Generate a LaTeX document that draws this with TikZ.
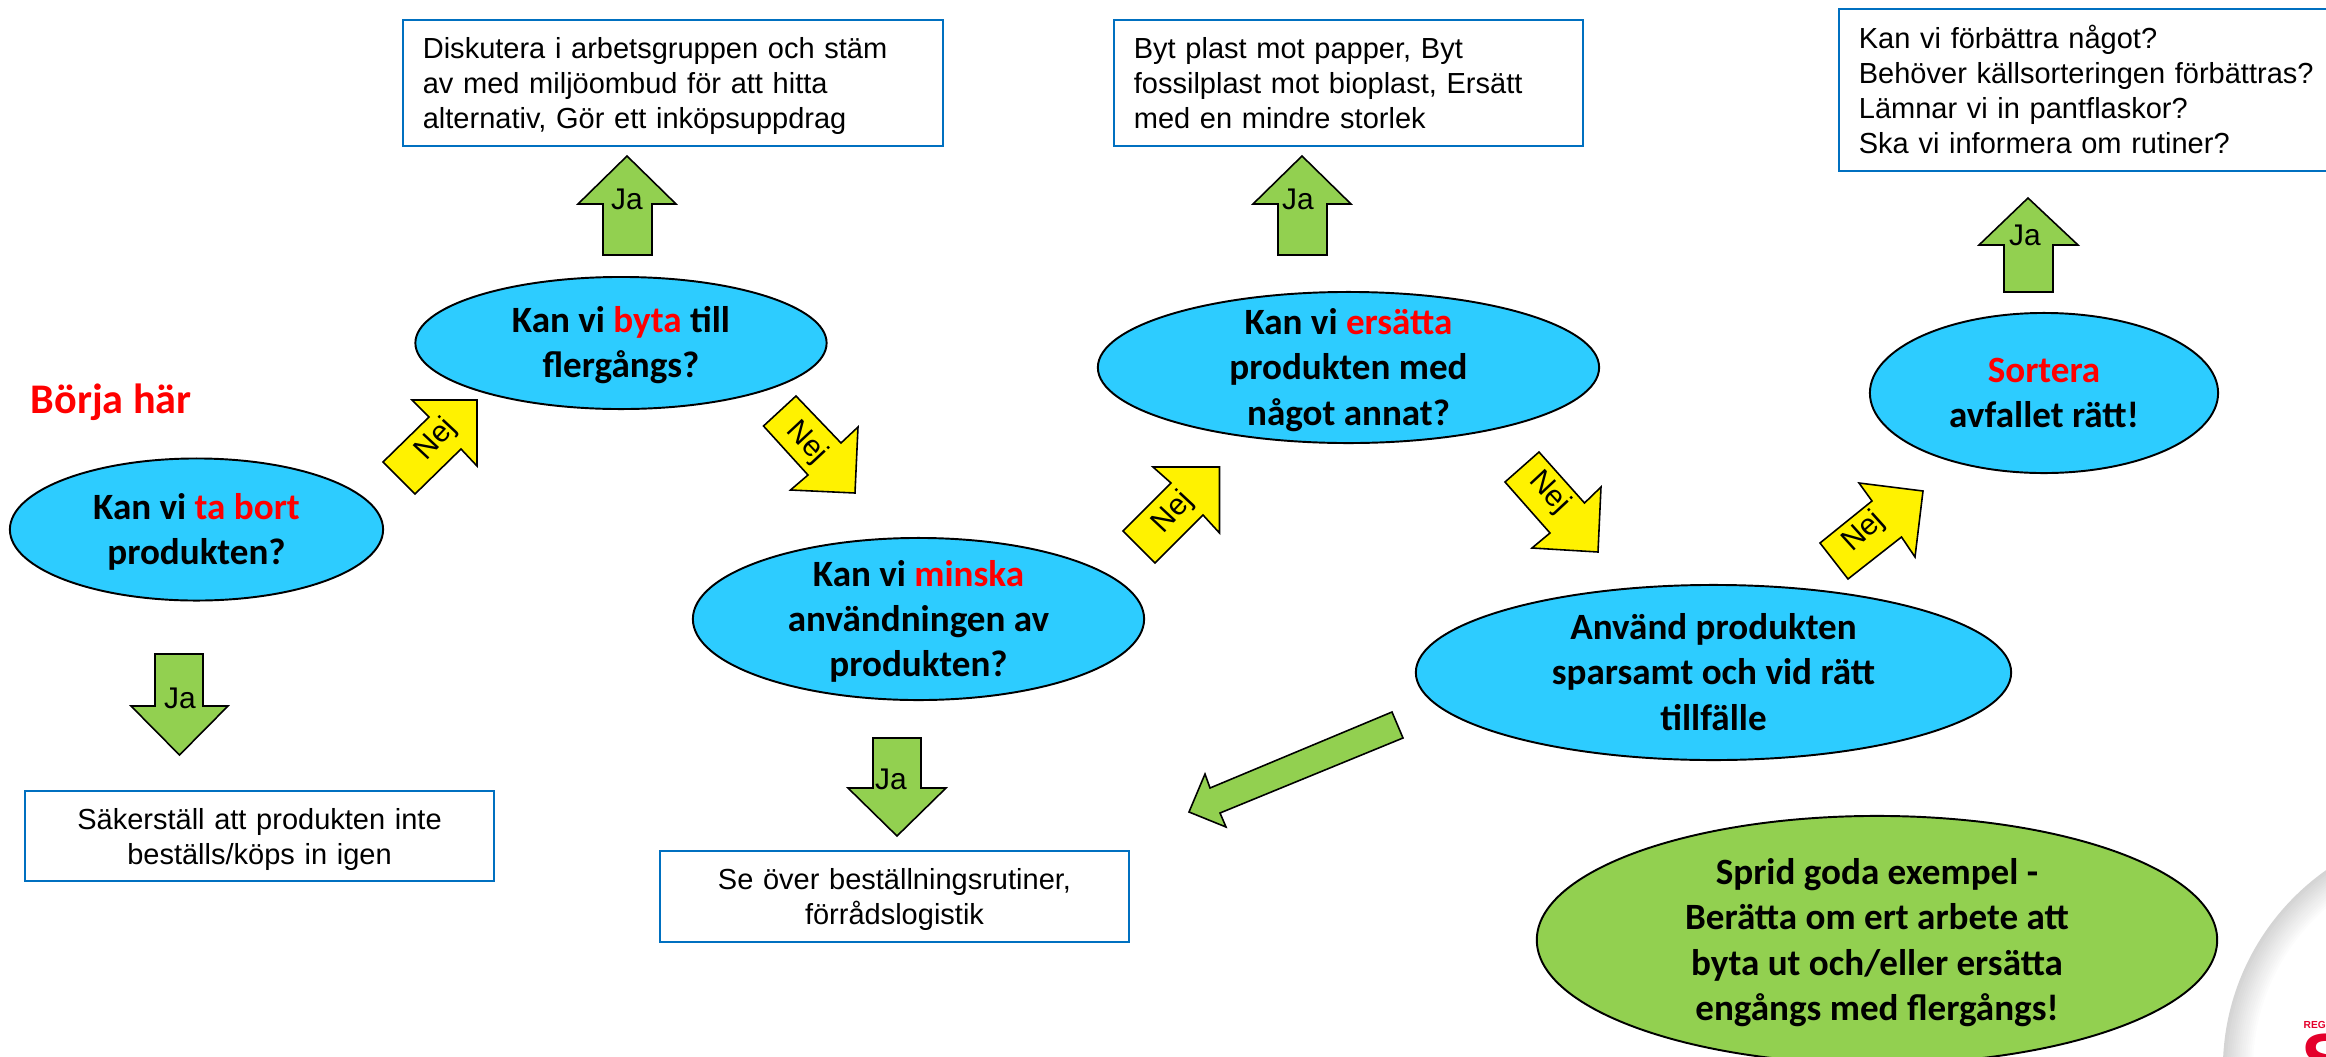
\documentclass[tikz,border=0pt]{standalone}
\usepackage{fontspec}
\setmainfont{Liberation Sans}
\newfontfamily\ovalfont{Carlito}
\usetikzlibrary{shapes.geometric}
\definecolor{ovalblue}{HTML}{2DCCFF}
\definecolor{arrowgreen}{HTML}{92D050}
\definecolor{boxblue}{HTML}{0070C0}
\definecolor{logored}{HTML}{E4002B}
\newcommand{\ovaltop}{\rule{0pt}{10.8pt}}
\newcommand{\ovalbot}{\rule[-3.7pt]{0pt}{3.7pt}}
\newcommand{\boxtop}{\rule{0pt}{8pt}}
\newcommand{\boxbot}{\rule[-2pt]{0pt}{2pt}}
\tikzset{
	oval/.style={ellipse, draw, line width=0.55pt, inner xsep=0pt, inner ysep=-0.4cm, align=center, font=\ovalfont\bfseries\fontsize{10.55}{12.8}\selectfont},
	infobox/.style={rectangle, draw=boxblue, line width=0.45pt, fill=white, inner xsep=0.2cm, inner ysep=0pt, font=\fontsize{8.25}{9.95}\selectfont},
	jaarrow/.style={draw, line width=0.45pt, fill=arrowgreen, line join=miter},
	nejarrow/.style={draw, line width=0.45pt, fill=yellow, line join=miter},
	arrowtext/.style={inner sep=0pt, font=\fontsize{8.5}{10}\selectfont}
}
\begin{document}
\begin{tikzpicture}[x=0.01cm, y=-0.01cm]
	\path[use as bounding box, clip] (0, 0) rectangle (2326, 1057);

	% Logo i hörnet
	\foreach \i in {0,...,15} {
		\pgfmathsetmacro{\tone}{17 - 1.13*\i}
		\fill[black!\tone] (2466, 1069) circle ({2.43cm - \i*0.02cm});
	}
	\node[inner sep=0pt, anchor=base west, text=logored, font=\bfseries\fontsize{2.9}{3}\selectfont] (logoText) at (2303, 1028) {REGI};
	\node[inner sep=0pt, anchor=base west, text=logored, font=\bfseries\fontsize{21}{21}\selectfont] (logoS) at (2301, 1085) {S};

	% Frågorna
	\node[oval, fill=ovalblue, minimum width=3.73cm, minimum height=1.42cm] (taBort) at (196.5, 529.5) {\ovaltop Kan vi \textcolor{red}{ta bort}\\produkten?\ovalbot};
	\node[oval, fill=ovalblue, minimum width=4.11cm, minimum height=1.32cm] (byta) at (621, 343) {\ovaltop Kan vi \textcolor{red}{byta} till\\flergångs?\ovalbot};
	\node[oval, fill=ovalblue, minimum width=4.51cm, minimum height=1.62cm] (minska) at (918.5, 619) {\ovaltop Kan vi \textcolor{red}{minska}\\användningen av\\produkten?\ovalbot};
	\node[oval, fill=ovalblue, minimum width=5.01cm, minimum height=1.51cm] (ersatta) at (1348.5, 367.5) {\ovaltop Kan vi \textcolor{red}{ersätta}\\produkten med\\något annat?\ovalbot};
	\node[oval, fill=ovalblue, minimum width=3.48cm, minimum height=1.6cm] (sortera) at (2044, 393) {\ovaltop\textcolor{red}{Sortera}\\avfallet rätt!\ovalbot};
	\node[oval, fill=ovalblue, minimum width=5.95cm, minimum height=1.75cm] (anvand) at (1713.5, 672.5) {\ovaltop Använd produkten\\sparsamt och vid rätt\\tillfälle\ovalbot};
	\node[oval, fill=arrowgreen, minimum width=6.8cm, minimum height=2.48cm] (sprid) at (1877, 940) {\ovaltop Sprid goda exempel -\\Berätta om ert arbete att\\byta ut och/eller ersätta\\engångs med flergångs!\ovalbot};

	\node[inner sep=0pt, anchor=base west, text=red, font=\ovalfont\bfseries\fontsize{12}{14}\selectfont] (borja) at (30, 413) {Börja här};

	% Rutorna
	\node[infobox, minimum width=4.69cm, minimum height=0.9cm, align=center, text width=4.29cm] (boxBort) at (259.5, 836) {\boxtop Säkerställ att produkten inte\\beställs/köps in igen\boxbot};
	\node[infobox, minimum width=5.4cm, minimum height=1.26cm, align=left, text width=5cm] (boxByta) at (673, 83) {\boxtop Diskutera i arbetsgruppen och stäm\\av med miljöombud för att hitta\\alternativ, Gör ett inköpsuppdrag\boxbot};
	\node[infobox, minimum width=4.69cm, minimum height=0.91cm, align=center, text width=4.29cm] (boxMinska) at (894.5, 896.5) {\boxtop Se över beställningsrutiner,\\förrådslogistik\boxbot};
	\node[infobox, minimum width=4.69cm, minimum height=1.26cm, align=left, text width=4.29cm] (boxErsatta) at (1348.5, 83) {\boxtop Byt plast mot papper, Byt\\fossilplast mot bioplast, Ersätt\\med en mindre storlek\boxbot};
	\node[infobox, minimum width=5.1cm, minimum height=1.62cm, align=left, text width=4.7cm] (boxSortera) at (2094, 90) {\boxtop Kan vi förbättra något?\\Behöver källsorteringen förbättras?\\Lämnar vi in pantflaskor?\\Ska vi informera om rutiner?\boxbot};

	% Ja-pilar
	\draw[jaarrow] (155, 654) -- (203, 654) -- (203, 706) -- (228, 706) -- (179.5, 755) -- (131, 706) -- (155, 706) -- cycle;
	\draw[jaarrow] (873, 738) -- (921, 738) -- (921, 788) -- (946, 788) -- (897, 836) -- (848, 788) -- (873, 788) -- cycle;
	\draw[jaarrow] (603, 255) -- (652, 255) -- (652, 204) -- (676, 204) -- (627, 156) -- (578, 204) -- (603, 204) -- cycle;
	\draw[jaarrow] (1278, 255) -- (1327, 255) -- (1327, 204) -- (1351, 204) -- (1302, 156) -- (1253, 204) -- (1278, 204) -- cycle;
	\draw[jaarrow] (2004, 292) -- (2053, 292) -- (2053, 245) -- (2078, 245) -- (2028, 198) -- (1979, 245) -- (2004, 245) -- cycle;
	\node[arrowtext, anchor=base] (jaBort) at (180, 708) {Ja};
	\node[arrowtext, anchor=base] (jaMinska) at (891, 789) {Ja};
	\node[arrowtext, anchor=base] (jaByta) at (627, 209) {Ja};
	\node[arrowtext, anchor=base] (jaErsatta) at (1298, 209) {Ja};
	\node[arrowtext, anchor=base] (jaSortera) at (2025, 245) {Ja};

	% Nej-pilar
	\draw[nejarrow] (383, 462) -- (429, 417) -- (412, 400) -- (477, 400) -- (477, 466) -- (461, 449) -- (415, 494) -- cycle;
	\draw[nejarrow] (796, 396) -- (841, 443) -- (858, 427) -- (855, 493) -- (790.5, 490) -- (808, 475) -- (763.5, 426) -- cycle;
	\draw[nejarrow] (1123, 531) -- (1171, 483) -- (1153, 467) -- (1219.5, 467) -- (1219.5, 533) -- (1203, 515) -- (1155, 563) -- cycle;
	\draw[nejarrow] (1539, 452) -- (1584.5, 503) -- (1601, 487) -- (1598, 552) -- (1532, 548) -- (1550, 533) -- (1505, 482) -- cycle;
	\draw[nejarrow] (1820, 543) -- (1872, 501) -- (1859, 483) -- (1923, 491) -- (1915, 557) -- (1901.5, 537) -- (1848, 579) -- cycle;
	\node[arrowtext, rotate=47] (nejBort) at (436, 440) {Nej};
	\node[arrowtext, rotate=-47] (nejByta) at (806.5, 443) {Nej};
	\node[arrowtext, rotate=47] (nejMinska) at (1173, 513) {Nej};
	\node[arrowtext, rotate=-47] (nejErsatta) at (1549, 493) {Nej};
	\node[arrowtext, rotate=42] (nejSortera) at (1863.5, 532) {Nej};

	% Pil mot Sprid goda exempel
	\draw[jaarrow] (1392, 712) -- (1403, 738) -- (1220, 813) -- (1226, 827) -- (1189, 812) -- (1205, 774) -- (1210, 788) -- cycle;
\end{tikzpicture}
\end{document}
